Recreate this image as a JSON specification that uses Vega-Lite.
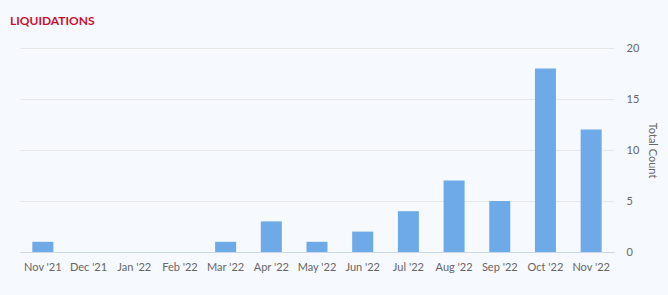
{
  "$schema": "https://vega.github.io/schema/vega-lite/v6.json",
  "width": 594,
  "height": 204,
  "autosize": {"type": "none"},
  "padding": {"left": 20, "top": 48, "right": 54, "bottom": 43},
  "background": "#f6f9fd",
  "title": {
    "text": "LIQUIDATIONS",
    "anchor": "start",
    "frame": "group",
    "color": "#c8102e",
    "fontSize": 12,
    "fontWeight": "bold",
    "font": "Lato",
    "dx": -10,
    "baseline": "bottom",
    "offset": 2
  },
  "config": {
    "view": {"stroke": null},
    "font": "Lato"
  },
  "data": {
    "values": [
      {"month": "Nov '21", "count": 1},
      {"month": "Dec '21", "count": 0},
      {"month": "Jan '22", "count": 0},
      {"month": "Feb '22", "count": 0},
      {"month": "Mar '22", "count": 1},
      {"month": "Apr '22", "count": 3},
      {"month": "May '22", "count": 1},
      {"month": "Jun '22", "count": 2},
      {"month": "Jul '22", "count": 4},
      {"month": "Aug '22", "count": 7},
      {"month": "Sep '22", "count": 5},
      {"month": "Oct '22", "count": 18},
      {"month": "Nov '22", "count": 12}
    ]
  },
  "mark": {"type": "bar", "color": "#6eaae8"},
  "encoding": {
    "x": {
      "field": "month",
      "type": "ordinal",
      "sort": null,
      "scale": {"paddingInner": 0.54, "paddingOuter": 0.27},
      "axis": {
        "title": null,
        "labelAngle": 0,
        "ticks": false,
        "domainColor": "#ccd6eb",
        "labelColor": "#666666",
        "labelFontSize": 11,
        "labelPadding": 9,
        "grid": false
      }
    },
    "y": {
      "field": "count",
      "type": "quantitative",
      "scale": {"domain": [0, 20]},
      "axis": {
        "orient": "right",
        "values": [0, 5, 10, 15, 20],
        "domain": false,
        "ticks": false,
        "grid": true,
        "gridColor": "#e6e6e6",
        "labelColor": "#666666",
        "labelFontSize": 11,
        "labelPadding": 12,
        "title": "Total Count",
        "titleColor": "#666666",
        "titleFontSize": 11,
        "titleFontWeight": "normal",
        "titlePadding": 8
      }
    }
  }
}
